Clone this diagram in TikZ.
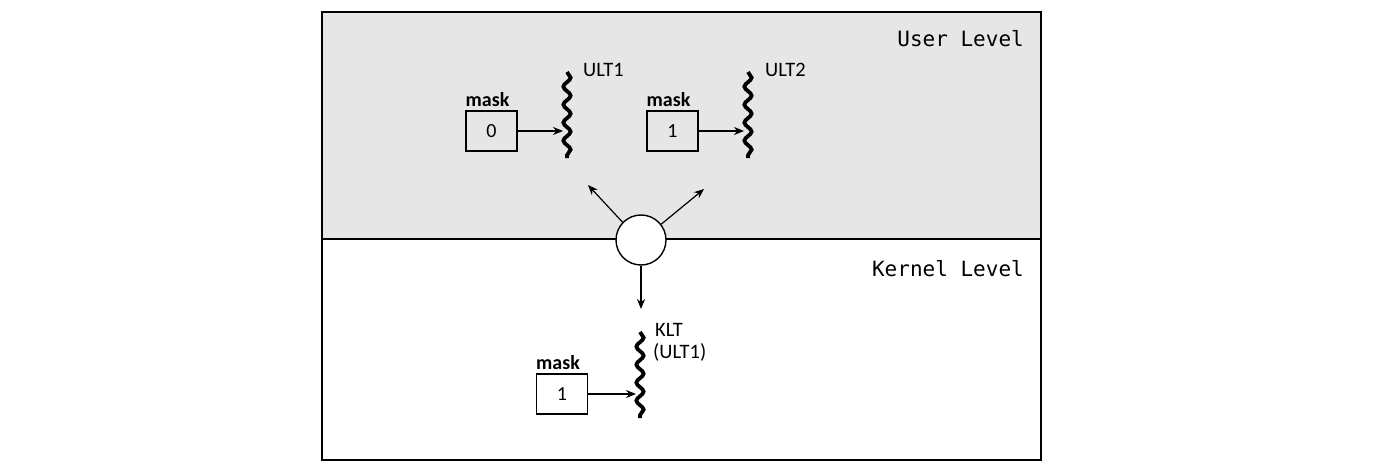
\documentclass[tikz,border=0pt]{standalone}
\usepackage{fontspec}
\setmainfont{Carlito}
\newfontfamily\levelfont{DejaVu Sans Mono}
\usetikzlibrary{arrows.meta,decorations.pathmorphing}
\definecolor{userbg}{HTML}{E6E6E6}
\tikzset{
  frame/.style={line width=1.4pt},
  maskbox/.style={draw, line width=1.1pt, minimum width=51pt, minimum height=40pt, inner sep=0pt, font=\fontsize{20}{22}\selectfont},
  masklabel/.style={inner sep=0pt, anchor=base west, yshift=4pt, font=\bfseries\fontsize{20}{22}\selectfont},
  threadlabel/.style={inner sep=0pt, anchor=base west, font=\fontsize{20.5}{23}\selectfont},
  levellabel/.style={inner sep=0pt, anchor=east, font=\levelfont\fontsize{21}{24}\selectfont},
  wave/.style={line width=3.8pt, decorate, decoration={snake, segment length=18pt, amplitude=3.6pt}},
  arr/.style={line width=1.2pt, -{Stealth[length=10pt, width=8pt]}},
  dispatcher/.style={circle, draw, line width=1.4pt, fill=white, minimum size=50pt, inner sep=0pt}
}
\begin{document}
\begin{tikzpicture}[x=1pt, y=-1pt]
\useasboundingbox (0,0) rectangle (1400,471);
% user and kernel regions
\fill[userbg] (322,12) rectangle (1041,239);
\draw[frame] (322,12) rectangle (1041,460);
\coordinate (divl) at (322,239);
\coordinate (divr) at (1041,239);
\draw[frame] (divl) -- (divr);
\node[levellabel] (user) at (1024,39) {User Level};
\node[levellabel] (kernel) at (1024,269) {Kernel Level};

% user-level thread ULT1
\coordinate (w1top) at (567,72);
\coordinate (w1bot) at (567,158);
\draw[wave] (w1top) -- (w1bot);
\node[threadlabel] (ult1) at (583,76) {ULT1};
\node[maskbox] (m1) at (491.5,131) {0};
\node[masklabel] (ml1) at (m1.north west) {mask};
\draw[arr] (m1.east) -- ([xshift=-4pt]m1.east -| w1top);

% user-level thread ULT2
\coordinate (w2top) at (748,72);
\coordinate (w2bot) at (748,158);
\draw[wave] (w2top) -- (w2bot);
\node[threadlabel] (ult2) at (765,76) {ULT2};
\node[maskbox] (m2) at (672.5,131) {1};
\node[masklabel] (ml2) at (m2.north west) {mask};
\draw[arr] (m2.east) -- ([xshift=-4pt]m2.east -| w2top);

% kernel-level thread
\coordinate (w3top) at (640,332);
\coordinate (w3bot) at (640,418);
\draw[wave] (w3top) -- (w3bot);
\node[threadlabel] (klt) at (655,336) {KLT};
\node[threadlabel] (kltult) at (653,358) {(ULT1)};
\node[maskbox] (m3) at (562,394) {1};
\node[masklabel] (ml3) at (m3.north west) {mask};
\draw[arr] (m3.east) -- ([xshift=-4pt]m3.east -| w3top);

% dispatcher between levels
\node[dispatcher] (disp) at (641,240) {};
\coordinate (tipl) at (588,185);
\coordinate (tipr) at (704,189);
\coordinate (tipd) at (641,309);
\draw[arr] (disp.136) -- (tipl);
\draw[arr] (disp.38) -- (tipr);
\draw[arr] (disp.south) -- (tipd);
\end{tikzpicture}
\end{document}
